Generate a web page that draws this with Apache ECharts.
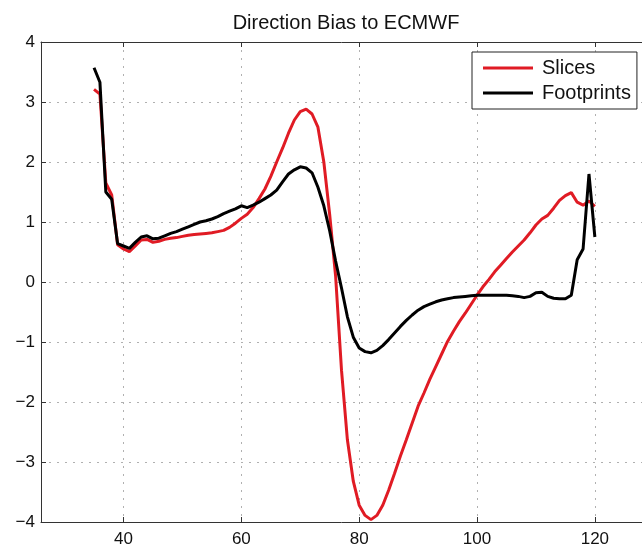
<!DOCTYPE html>
<html>
<head>
<meta charset="utf-8">
<script src="https://cdn.jsdelivr.net/npm/echarts@6/dist/echarts.min.js"></script>
<style>
html,body{margin:0;padding:0;background:#fff;}
#chart{width:642px;height:552px;}
</style>
</head>
<body>
<div id="chart"></div>
<script>
var titleText = 'Direction Bias to ECMWF';
var seriesNames = ['Slices', 'Footprints'];
var xTicks = [40, 60, 80, 100, 120];
var latitudes = [35,36,37,38,39,40,41,42,43,44,45,46,47,48,49,50,51,52,53,54,55,56,57,58,59,60,
  61,62,63,64,65,66,67,68,69,70,71,72,73,74,75,76,77,78,79,80,81,82,83,84,85,86,87,88,89,90,
  91,92,93,94,95,96,97,98,99,100,101,102,103,104,105,106,107,108,109,110,111,112,113,114,115,116,117,118,119,120];
var slices = [3.21,3.13,1.65,1.45,0.62,0.55,0.505,0.6,0.7,0.71,0.66,0.68,0.71,0.73,0.74,0.76,0.78,0.79,0.8,0.81,0.82,0.84,0.86,0.91,0.98,1.06,
  1.13,1.24,1.39,1.55,1.76,2.0,2.23,2.48,2.7,2.84,2.88,2.8,2.58,2.0,1.12,0.1,-1.47,-2.63,-3.32,-3.72,-3.89,-3.96,-3.89,-3.72,-3.47,-3.19,-2.9,-2.63,-2.35,-2.07,
  -1.85,-1.62,-1.41,-1.2,-0.99,-0.82,-0.66,-0.52,-0.37,-0.22,-0.08,0.04,0.17,0.28,0.39,0.5,0.6,0.7,0.82,0.95,1.05,1.11,1.23,1.36,1.44,1.49,1.33,1.28,1.35,1.26];
var footprints = [3.57,3.33,1.5,1.38,0.64,0.6,0.56,0.66,0.75,0.77,0.72,0.73,0.77,0.81,0.84,0.88,0.92,0.96,1.0,1.02,1.05,1.09,1.14,1.18,1.22,1.27,
  1.24,1.28,1.33,1.39,1.45,1.53,1.67,1.8,1.87,1.92,1.9,1.82,1.58,1.27,0.85,0.35,-0.1,-0.58,-0.92,-1.1,-1.16,-1.18,-1.14,-1.06,-0.96,-0.85,-0.74,-0.64,-0.55,-0.47,
  -0.41,-0.37,-0.33,-0.3,-0.28,-0.26,-0.25,-0.24,-0.23,-0.22,-0.22,-0.22,-0.22,-0.22,-0.22,-0.23,-0.24,-0.26,-0.24,-0.18,-0.17,-0.24,-0.27,-0.28,-0.28,-0.22,0.37,0.55,1.8,0.75];

function zip(xs, ys) { return xs.map(function (x, i) { return [x, ys[i]]; }); }

var FONT = '"Liberation Sans", Arial, Helvetica, sans-serif';
var axisColor = '#333';
var chart = echarts.init(document.getElementById('chart'), null, {renderer: 'canvas'});
var commonX = {
  type: 'value', min: 26, max: 128,
  axisLine: {show: true, onZero: false, lineStyle: {color: axisColor, width: 1}},
  axisTick: {show: true, inside: true, length: 5, customValues: xTicks, lineStyle: {color: axisColor}},
  splitLine: {show: false}
};
chart.setOption({
  animation: false,
  backgroundColor: '#fff',
  title: {
    text: titleText, left: 341, top: 8, textAlign: 'center',
    textStyle: {fontFamily: FONT, fontSize: 20, fontWeight: 'normal', color: '#111'}
  },
  grid: {left: 41, top: 42, width: 620, height: 480, containLabel: false},
  legend: {
    data: seriesNames, orient: 'vertical', left: 472, top: 52,
    padding: [5, 6, 5, 11], itemGap: 3, itemWidth: 50, itemHeight: 3, icon: 'rect',
    backgroundColor: '#fff', borderColor: '#222', borderWidth: 1,
    textStyle: {fontFamily: FONT, fontSize: 20, color: '#111', lineHeight: 22, padding: [0, 0, 0, 4]}
  },
  xAxis: [
    Object.assign({}, commonX, {
      position: 'bottom',
      axisLabel: {show: true, customValues: xTicks, margin: 9, fontFamily: FONT, fontSize: 17, color: '#111'},
      splitLine: {show: true, lineStyle: {color: '#b0b0b0', type: [2, 6], width: 1}}
    }),
    Object.assign({}, commonX, {position: 'top', axisLabel: {show: false}})
  ],
  yAxis: [{
    type: 'value', min: -4, max: 4, interval: 1, position: 'left',
    axisLine: {show: true, onZero: false, lineStyle: {color: axisColor, width: 1}},
    axisTick: {show: true, inside: true, length: 5, lineStyle: {color: axisColor}},
    axisLabel: {margin: 6, fontFamily: FONT, fontSize: 17, color: '#111',
      formatter: function (v) { return String(v).replace('-', '\u2212'); }},
    splitLine: {show: true, lineStyle: {color: '#b0b0b0', type: [2, 6], width: 1}}
  }],
  series: [
    {name: seriesNames[0], type: 'line', data: zip(latitudes, slices), showSymbol: false, symbol: 'none',
      color: '#e01b24', lineStyle: {color: '#e01b24', width: 3}, xAxisIndex: 0},
    {name: seriesNames[1], type: 'line', data: zip(latitudes, footprints), showSymbol: false, symbol: 'none',
      color: '#000', lineStyle: {color: '#000', width: 3}, xAxisIndex: 0}
  ]
});
</script>
</body>
</html>
